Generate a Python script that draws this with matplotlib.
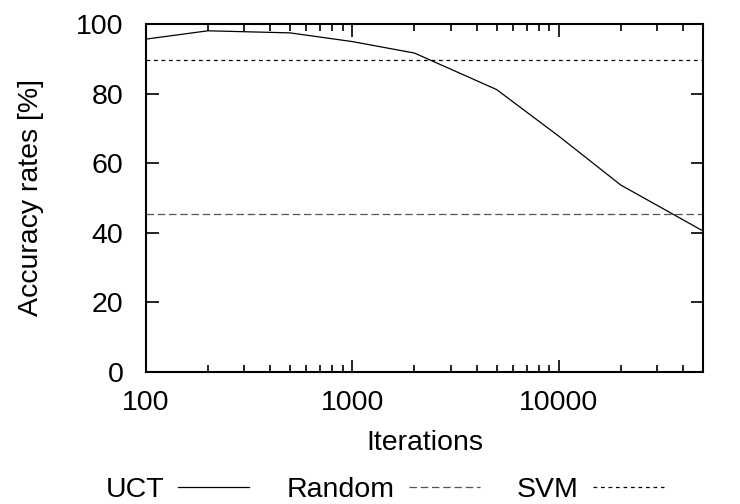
import matplotlib
matplotlib.use("Agg")
import matplotlib.pyplot as plt
from matplotlib.ticker import FixedLocator, NullFormatter

plt.rcParams['font.family'] = ['Liberation Sans', 'DejaVu Sans']

iterations = [100, 200, 500, 1000, 2000, 5000, 10000, 20000, 50000]
uct_acc = [95.7, 98.1, 97.5, 95.0, 91.7, 81.2, 67.8, 53.7, 40.5]
random_acc = 45.5
svm_acc = 89.6

fs = 20.5

fig = plt.figure(figsize=(7.4, 5.04), dpi=100)
ax = fig.add_axes([0.197, 0.2625, 0.753, 0.6895])

ax.plot(iterations, uct_acc, color="black", lw=0.9, label="UCT")
ax.axhline(random_acc, color="#555555", lw=0.9, ls=(0, (6, 3)), label="Random")
ax.axhline(svm_acc, color="black", lw=0.9, ls=(0, (3, 3)), label="SVM")

ax.set_xscale("log")
ax.set_xlim(100, 50000)
ax.set_ylim(0, 100)
ax.set_xticks([100, 1000, 10000])
ax.set_xticklabels(["100", "1000", "10000"])
ax.xaxis.set_minor_locator(FixedLocator([m * 10 ** e for e in (2, 3, 4) for m in range(2, 10) if m * 10 ** e < 50000]))
ax.xaxis.set_minor_formatter(NullFormatter())
ax.set_yticks(range(0, 101, 20))

for s in ax.spines.values():
    s.set_linewidth(1.5)
ax.tick_params(which="both", direction="in", top=True, right=True, labelsize=fs, width=1.2)
ax.tick_params(which="major", length=9)
ax.tick_params(axis="x", which="major", pad=13)
ax.tick_params(axis="y", which="major", pad=16)
ax.tick_params(which="minor", length=5)

ax.set_xlabel("Iterations", fontsize=fs, labelpad=10)
ax.set_ylabel("Accuracy rates [%]", fontsize=fs, labelpad=23)

fig.legend(loc="center", bbox_to_anchor=(0.52, 0.028), ncol=3, frameon=False,
           markerfirst=False, fontsize=fs, handlelength=2.5, columnspacing=1.3,
           handletextpad=0.5)

fig.savefig("out.png", dpi=100)
